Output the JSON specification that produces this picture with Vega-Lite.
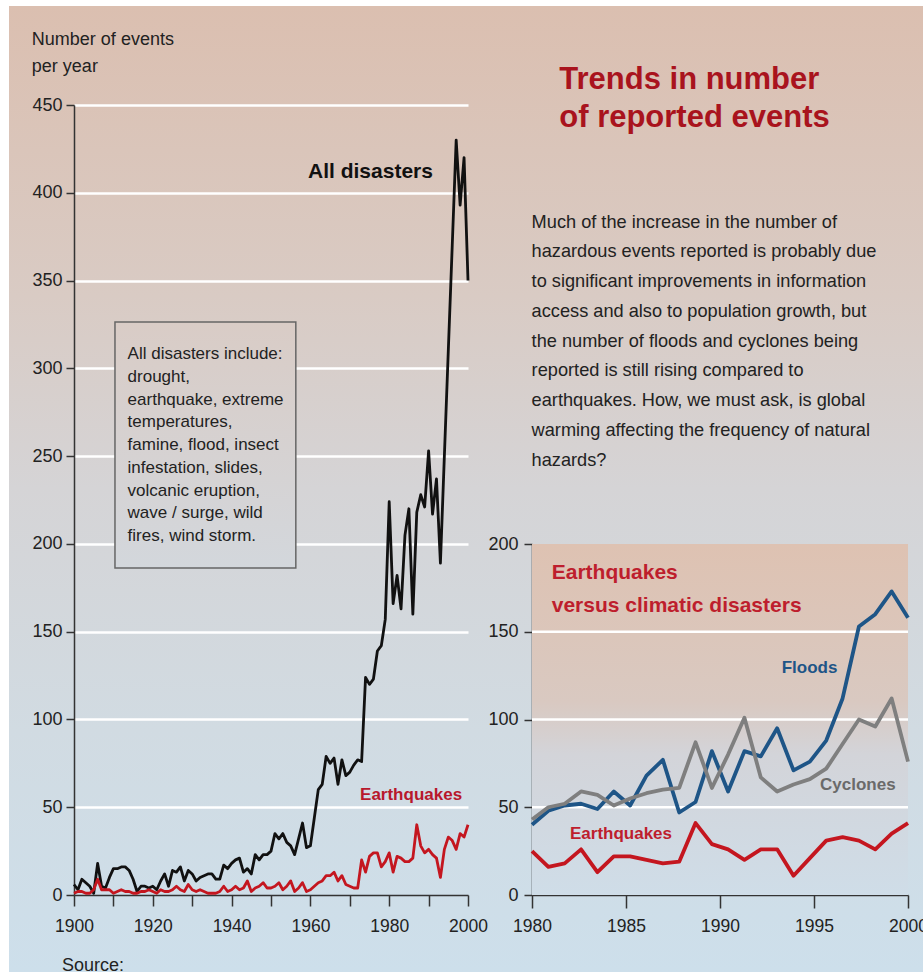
{
  "$schema": "https://vega.github.io/schema/vega-lite/v6.json",
  "width": 914,
  "height": 966,
  "autosize": {"type": "none"},
  "padding": {"left": 9, "top": 6, "right": 0, "bottom": 5},
  "background": "white",
  "view": {
    "stroke": null,
    "fill": {"gradient": "linear", "x1": 0, "y1": 0, "x2": 0, "y2": 1,
      "stops": [
        {"offset": 0, "color": "#dbbfb0"},
        {"offset": 0.3, "color": "#d9cbc4"},
        {"offset": 0.5, "color": "#d5d4d6"},
        {"offset": 0.75, "color": "#d1dbe2"},
        {"offset": 1, "color": "#cddfeb"}
      ]}
  },
  "config": {"font": "Liberation Sans"},
  "datasets": {
    "left": [
      {"year":1900,"all":6,"eq":1},{"year":1901,"all":3,"eq":2},{"year":1902,"all":9,"eq":2},{"year":1903,"all":7,"eq":1},{"year":1904,"all":5,"eq":1},
      {"year":1905,"all":1,"eq":3},{"year":1906,"all":18,"eq":9},{"year":1907,"all":5,"eq":3},{"year":1908,"all":4,"eq":3},{"year":1909,"all":10,"eq":3},
      {"year":1910,"all":15,"eq":1},{"year":1911,"all":15,"eq":2},{"year":1912,"all":16,"eq":3},{"year":1913,"all":16,"eq":2},{"year":1914,"all":14,"eq":2},
      {"year":1915,"all":9,"eq":1},{"year":1916,"all":2,"eq":1},{"year":1917,"all":5,"eq":2},{"year":1918,"all":5,"eq":2},{"year":1919,"all":4,"eq":3},
      {"year":1920,"all":5,"eq":2},{"year":1921,"all":3,"eq":1},{"year":1922,"all":8,"eq":3},{"year":1923,"all":12,"eq":2},{"year":1924,"all":5,"eq":2},
      {"year":1925,"all":14,"eq":3},{"year":1926,"all":13,"eq":5},{"year":1927,"all":16,"eq":3},{"year":1928,"all":8,"eq":2},{"year":1929,"all":14,"eq":6},
      {"year":1930,"all":12,"eq":3},{"year":1931,"all":8,"eq":2},{"year":1932,"all":10,"eq":3},{"year":1933,"all":11,"eq":2},{"year":1934,"all":12,"eq":1},
      {"year":1935,"all":12,"eq":1},{"year":1936,"all":9,"eq":1},{"year":1937,"all":9,"eq":2},{"year":1938,"all":17,"eq":5},{"year":1939,"all":15,"eq":2},
      {"year":1940,"all":18,"eq":3},{"year":1941,"all":20,"eq":5},{"year":1942,"all":21,"eq":3},{"year":1943,"all":13,"eq":4},{"year":1944,"all":15,"eq":8},
      {"year":1945,"all":12,"eq":2},{"year":1946,"all":23,"eq":4},{"year":1947,"all":20,"eq":5},{"year":1948,"all":23,"eq":7},{"year":1949,"all":23,"eq":4},
      {"year":1950,"all":25,"eq":4},{"year":1951,"all":35,"eq":5},{"year":1952,"all":32,"eq":7},{"year":1953,"all":35,"eq":3},{"year":1954,"all":30,"eq":5},
      {"year":1955,"all":28,"eq":8},{"year":1956,"all":23,"eq":2},{"year":1957,"all":32,"eq":4},{"year":1958,"all":41,"eq":7},{"year":1959,"all":27,"eq":2},
      {"year":1960,"all":28,"eq":3},{"year":1961,"all":44,"eq":5},{"year":1962,"all":60,"eq":7},{"year":1963,"all":63,"eq":8},{"year":1964,"all":79,"eq":11},
      {"year":1965,"all":75,"eq":11},{"year":1966,"all":78,"eq":13},{"year":1967,"all":63,"eq":8},{"year":1968,"all":77,"eq":11},{"year":1969,"all":68,"eq":6},
      {"year":1970,"all":70,"eq":5},{"year":1971,"all":74,"eq":4},{"year":1972,"all":77,"eq":4},{"year":1973,"all":76,"eq":20},{"year":1974,"all":124,"eq":13},
      {"year":1975,"all":120,"eq":22},{"year":1976,"all":123,"eq":24},{"year":1977,"all":139,"eq":24},{"year":1978,"all":142,"eq":16},{"year":1979,"all":157,"eq":19},
      {"year":1980,"all":224,"eq":24},{"year":1981,"all":166,"eq":13},{"year":1982,"all":182,"eq":22},{"year":1983,"all":163,"eq":21},{"year":1984,"all":205,"eq":19},
      {"year":1985,"all":220,"eq":19},{"year":1986,"all":160,"eq":21},{"year":1987,"all":218,"eq":40},{"year":1988,"all":228,"eq":28},{"year":1989,"all":221,"eq":24},
      {"year":1990,"all":253,"eq":26},{"year":1991,"all":217,"eq":23},{"year":1992,"all":237,"eq":21},{"year":1993,"all":189,"eq":10},{"year":1994,"all":250,"eq":26},
      {"year":1995,"all":310,"eq":33},{"year":1996,"all":370,"eq":31},{"year":1997,"all":430,"eq":26},{"year":1998,"all":393,"eq":35},{"year":1999,"all":420,"eq":33},
      {"year":2000,"all":350,"eq":40}
    ],
    "right": [
      {"year":1980.00,"floods":40,"cyclones":43,"eq":25},
      {"year":1980.87,"floods":48,"cyclones":50,"eq":16},
      {"year":1981.74,"floods":51,"cyclones":52,"eq":18},
      {"year":1982.61,"floods":52,"cyclones":59,"eq":26},
      {"year":1983.48,"floods":49,"cyclones":57,"eq":13},
      {"year":1984.35,"floods":59,"cyclones":51,"eq":22},
      {"year":1985.22,"floods":51,"cyclones":55,"eq":22},
      {"year":1986.09,"floods":68,"cyclones":58,"eq":20},
      {"year":1986.96,"floods":77,"cyclones":60,"eq":18},
      {"year":1987.83,"floods":47,"cyclones":61,"eq":19},
      {"year":1988.70,"floods":53,"cyclones":87,"eq":41},
      {"year":1989.57,"floods":82,"cyclones":61,"eq":29},
      {"year":1990.43,"floods":59,"cyclones":80,"eq":26},
      {"year":1991.30,"floods":82,"cyclones":101,"eq":20},
      {"year":1992.17,"floods":79,"cyclones":67,"eq":26},
      {"year":1993.04,"floods":95,"cyclones":59,"eq":26},
      {"year":1993.91,"floods":71,"cyclones":63,"eq":11},
      {"year":1994.78,"floods":76,"cyclones":66,"eq":21},
      {"year":1995.65,"floods":88,"cyclones":72,"eq":31},
      {"year":1996.52,"floods":112,"cyclones":86,"eq":33},
      {"year":1997.39,"floods":153,"cyclones":100,"eq":31},
      {"year":1998.26,"floods":160,"cyclones":96,"eq":26},
      {"year":1999.13,"floods":173,"cyclones":112,"eq":35},
      {"year":2000.00,"floods":158,"cyclones":76,"eq":41}
    ]
  },
  "layer": [
    {
      "data": {"name": "left"},
      "layer": [
        {
          "transform": [{"fold": ["all", "eq"], "as": ["series", "value"]}],
          "mark": {"type": "line", "strokeWidth": 2.8, "strokeJoin": "round"},
          "encoding": {
            "x": {"field": "year", "type": "quantitative",
              "scale": {"domain": [1900, 2000], "range": [65, 459], "nice": false, "zero": false},
              "axis": {"orient": "bottom", "offset": -77, "title": null, "grid": false,
                "values": [1900,1910,1920,1930,1940,1950,1960,1970,1980,1990,2000],
                "format": "d", "labelExpr": "datum.value % 20 === 0 ? datum.label : ''",
                "tickSize": 11, "tickWidth": 1.5, "tickColor": "#333", "domainColor": "#333", "domainWidth": 1.5,
                "labelFontSize": 17.5, "labelColor": "#222", "labelPadding": 11, "labelFlush": false, "labelOverlap": false}},
            "y": {"field": "value", "type": "quantitative",
              "scale": {"domain": [0, 450], "range": [889, 99], "nice": false},
              "axis": {"orient": "left", "offset": -65, "title": null, "grid": true,
                "gridColor": "white", "gridWidth": 2.5,
                "gridOpacity": {"condition": {"test": "datum.value === 0", "value": 0}, "value": 1},
                "values": [0,50,100,150,200,250,300,350,400,450],
                "tickSize": 8, "tickWidth": 1.5, "tickColor": "#333", "domainColor": "#333", "domainWidth": 1.5,
                "labelFontSize": 18, "labelColor": "#222", "labelPadding": 4}},
            "color": {"field": "series", "type": "nominal", "legend": null,
              "scale": {"domain": ["all", "eq", "floods", "cyclones"], "range": ["#111111", "#c4161f", "#1e5587", "#7f7f7f"]}}
          }
        },
        {
          "data": {"values": [{}]},
          "mark": {"type": "rect", "stroke": "#666666", "strokeWidth": 1.5,
            "fill": {"gradient": "linear", "x1": 0, "y1": 0, "x2": 0, "y2": 1,
              "stops": [{"offset": 0, "color": "#d9ccc6"}, {"offset": 1, "color": "#d3d7dc"}]}},
          "encoding": {
            "x": {"datum": 1910.4}, "x2": {"datum": 1956.3},
            "y": {"datum": 326.4}, "y2": {"datum": 186.3}
          }
        },
        {
          "data": {"values": [{}]},
          "mark": {"type": "text", "align": "left", "baseline": "alphabetic", "fontSize": 17, "lineHeight": 22.7, "color": "#222222"},
          "encoding": {
            "x": {"datum": 1913.6}, "y": {"datum": 305.1},
            "text": {"value": ["All disasters include:", "drought,", "earthquake, extreme", "temperatures,", "famine, flood, insect", "infestation, slides,", "volcanic eruption,", "wave / surge, wild", "fires, wind storm."]}
          }
        },
        {
          "data": {"values": [{}]},
          "mark": {"type": "text", "align": "left", "baseline": "alphabetic", "fontSize": 18, "lineHeight": 27, "color": "#222222"},
          "encoding": {
            "x": {"datum": 1889.3}, "y": {"datum": 484.2},
            "text": {"value": ["Number of events", "per year"]}
          }
        },
        {
          "data": {"values": [{}]},
          "mark": {"type": "text", "align": "right", "baseline": "middle", "fontSize": 21, "fontWeight": "bold", "color": "#111111"},
          "encoding": {
            "x": {"datum": 1991.1}, "y": {"datum": 411.8},
            "text": {"value": "All disasters"}
          }
        },
        {
          "data": {"values": [{}]},
          "mark": {"type": "text", "align": "left", "baseline": "middle", "fontSize": 17, "fontWeight": "bold", "color": "#b8182c"},
          "encoding": {
            "x": {"datum": 1972.6}, "y": {"datum": 57},
            "text": {"value": "Earthquakes"}
          }
        },
        {
          "data": {"values": [{}]},
          "mark": {"type": "text", "align": "left", "baseline": "alphabetic", "fontSize": 18, "color": "#222222"},
          "encoding": {
            "x": {"datum": 1896.95}, "y": {"datum": -43.5},
            "text": {"value": "Source:"}
          }
        }
      ]
    },
    {
      "data": {"name": "right"},
      "layer": [
        {
          "data": {"values": [{}]},
          "mark": {"type": "rect",
            "fill": {"gradient": "linear", "x1": 0, "y1": 0, "x2": 0, "y2": 1,
              "stops": [{"offset": 0, "color": "#dec2b2"}, {"offset": 0.45, "color": "#d9c9c1"}, {"offset": 0.6, "color": "#d3d4d9"}, {"offset": 1, "color": "#cfdde8"}]}},
          "encoding": {
            "x": {"datum": 1980}, "x2": {"datum": 2000},
            "y": {"datum": 0}, "y2": {"datum": 200}
          }
        },
        {
          "data": {"values": [{"grid": 50}, {"grid": 100}, {"grid": 150}]},
          "mark": {"type": "rule", "color": "white", "strokeWidth": 2.5},
          "encoding": {
            "x": {"datum": 1980}, "x2": {"datum": 2000},
            "y": {"field": "grid", "type": "quantitative"}
          }
        },
        {
          "transform": [{"fold": ["floods", "cyclones", "eq"], "as": ["series", "value"]}],
          "mark": {"type": "line", "strokeWidth": 3.8, "strokeJoin": "round"},
          "encoding": {
            "x": {"field": "year", "type": "quantitative",
              "scale": {"domain": [1980, 2000], "range": [523, 899], "nice": false, "zero": false},
              "axis": {"orient": "bottom", "offset": -77, "title": null, "grid": false,
                "values": [1980, 1985, 1990, 1995, 2000], "format": "d",
                "tickSize": 13, "tickWidth": 1.5, "tickColor": "#333", "domainColor": "#333", "domainWidth": 1.5,
                "labelFontSize": 17.5, "labelColor": "#222", "labelPadding": 9, "labelFlush": false, "labelOverlap": false}},
            "y": {"field": "value", "type": "quantitative",
              "scale": {"domain": [0, 200], "range": [889, 538], "nice": false},
              "axis": {"orient": "left", "offset": -523, "title": null, "grid": false,
                "values": [0, 50, 100, 150, 200],
                "tickSize": 8, "tickWidth": 1.5, "tickColor": "#333", "domainColor": "#333", "domainWidth": 1.5,
                "labelFontSize": 18, "labelColor": "#222", "labelPadding": 6}},
            "color": {"field": "series", "type": "nominal", "legend": null,
              "scale": {"domain": ["all", "eq", "floods", "cyclones"], "range": ["#111111", "#c4161f", "#1e5587", "#7f7f7f"]}}
          }
        },
        {
          "data": {"values": [{}]},
          "mark": {"type": "text", "align": "left", "baseline": "alphabetic", "fontSize": 31, "fontWeight": "bold", "lineHeight": 38.4, "color": "#a9131d"},
          "encoding": {
            "x": {"datum": 1981.45}, "y": {"datum": 459.4},
            "text": {"value": ["Trends in number", "of reported events"]}
          }
        },
        {
          "data": {"values": [{}]},
          "mark": {"type": "text", "align": "left", "baseline": "alphabetic", "fontSize": 18.2, "lineHeight": 29.75, "color": "#222222"},
          "encoding": {
            "x": {"datum": 1979.98}, "y": {"datum": 380.3},
            "text": {"value": ["Much of the increase in the number of", "hazardous events reported is probably due", "to significant improvements in information", "access and also to population growth, but", "the number of floods and cyclones being", "reported is still rising compared to", "earthquakes. How, we must ask, is global", "warming affecting the frequency of natural", "hazards?"]}
          }
        },
        {
          "data": {"values": [{}]},
          "mark": {"type": "text", "align": "left", "baseline": "alphabetic", "fontSize": 21, "fontWeight": "bold", "lineHeight": 33.3, "color": "#be1e2d"},
          "encoding": {
            "x": {"datum": 1981.05}, "y": {"datum": 180},
            "text": {"value": ["Earthquakes", "versus climatic disasters"]}
          }
        },
        {
          "data": {"values": [{}]},
          "mark": {"type": "text", "align": "left", "baseline": "middle", "fontSize": 17, "fontWeight": "bold", "color": "#1e5587"},
          "encoding": {
            "x": {"datum": 1993.28}, "y": {"datum": 129.2},
            "text": {"value": "Floods"}
          }
        },
        {
          "data": {"values": [{}]},
          "mark": {"type": "text", "align": "left", "baseline": "middle", "fontSize": 17, "fontWeight": "bold", "color": "#6a6a6a"},
          "encoding": {
            "x": {"datum": 1995.32}, "y": {"datum": 62.7},
            "text": {"value": "Cyclones"}
          }
        },
        {
          "data": {"values": [{}]},
          "mark": {"type": "text", "align": "left", "baseline": "middle", "fontSize": 17, "fontWeight": "bold", "color": "#be1e2d"},
          "encoding": {
            "x": {"datum": 1982.02}, "y": {"datum": 34.8},
            "text": {"value": "Earthquakes"}
          }
        }
      ]
    }
  ],
  "resolve": {"scale": {"x": "independent", "y": "independent"}}
}
